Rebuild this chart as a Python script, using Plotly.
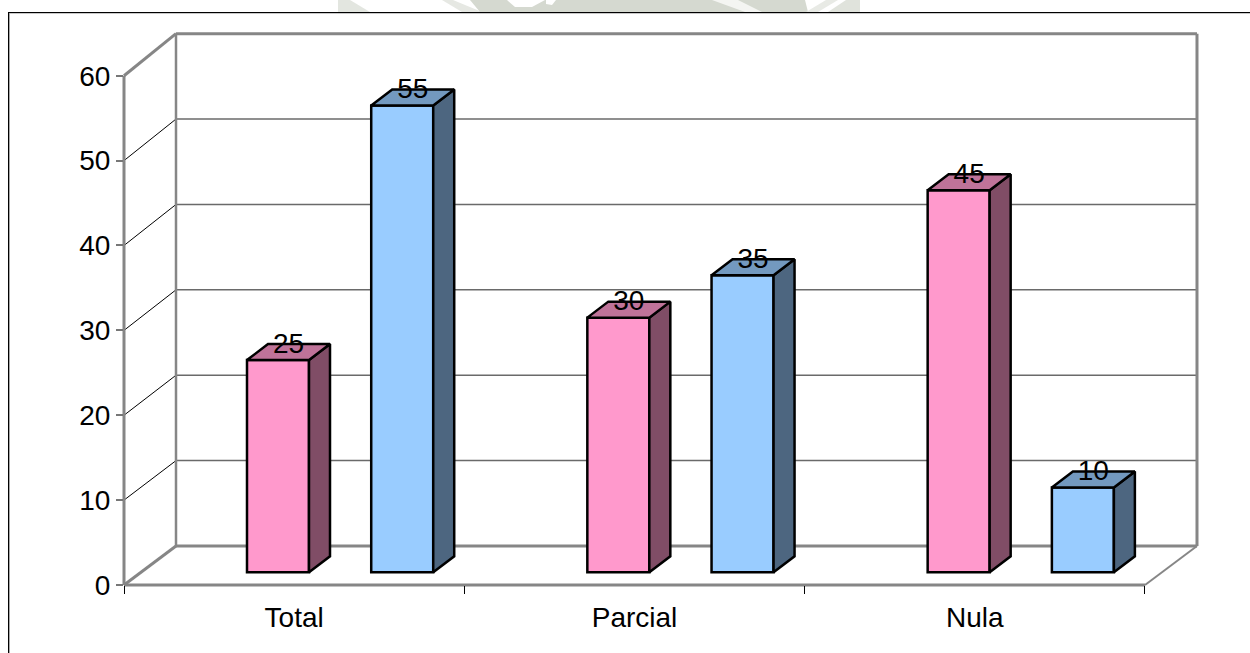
import plotly.graph_objects as go

# Survey results per category, two series per group
categories = ["Total", "Parcial", "Nula"]
series_a = [25, 30, 45]
series_b = [55, 35, 10]
y_ticks = [0, 10, 20, 30, 40, 50, 60]

FONT = "Liberation Sans, Arial, sans-serif"
FONT_SIZE = 28
WIDTH, HEIGHT = 1250, 653
LEFT, RIGHT, TOP, BOTTOM = 124, 1197, 34, 585
X_UNIT = 340.33
Y_UNIT = 8.488
X_MAX = (RIGHT - LEFT) / X_UNIT
Y_MAX = (BOTTOM - TOP) / Y_UNIT

# Oblique projection of the depth axis, in data units
WALL_DX = 52 / X_UNIT
WALL_DY0 = 39 / Y_UNIT
WALL_SCALE = 1.006
BAR_DX = 21 / X_UNIT
BAR_DY = 16 / Y_UNIT
BAR_BASE = 1.5
BAR_W = 62 / X_UNIT
OFFSETS = (0.4525, 0.8175)

GREY = "#868686"
STYLES = (
    ("#FF99CC", "#804D66", "#BF7399"),
    ("#99CCFF", "#4D6680", "#7399BF"),
)


def back(v):
    return v * WALL_SCALE + WALL_DY0


def seg(x0, y0, x1, y1, color=GREY, width=3):
    # Paper references keep strokes on the plot edge from being clipped
    return dict(type="line", xref="paper", yref="paper",
                x0=x0 / X_MAX, y0=y0 / Y_MAX, x1=x1 / X_MAX, y1=y1 / Y_MAX,
                layer="below", line=dict(color=color, width=width))


def paper_poly(points, color):
    coords = [((x - LEFT) / (RIGHT - LEFT), 1 - (y - TOP) / (BOTTOM - TOP)) for x, y in points]
    path = "M " + " L ".join(f"{x:.5f},{y:.5f}" for x, y in coords) + " Z"
    return dict(type="path", xref="paper", yref="paper", path=path, layer="below",
                fillcolor=color, line=dict(width=0))


x_end = len(categories)
top = y_ticks[-1]
wall_right = x_end + WALL_DX
shapes = []

# Faint background emblem showing above the chart frame
shapes += [
    paper_poly([(338, 0), (350, 0), (370, 12), (338, 12)], "#E3E6E0"),
    paper_poly([(442, 0), (453, 0), (482, 12), (462, 12)], "#E6E8E3"),
    paper_poly([(470, 0), (805, 0), (808, 12), (480, 12)], "#D5D9D0"),
    paper_poly([(507, 0), (545, 0), (532, 7), (515, 7)], "#FFFFFF"),
    paper_poly([(546, 0), (556, 0), (552, 5), (546, 4)], "#FFFFFF"),
    paper_poly([(712, 0), (738, 0), (762, 12), (745, 12)], "#F4F5F2"),
    paper_poly([(826, 0), (838, 0), (818, 12), (806, 12)], "#E8EAE5"),
    paper_poly([(846, 0), (860, 0), (860, 12), (828, 12)], "#E0E3DC"),
]

# Outer frame with its soft inner edge
shapes += [
    paper_poly([(8, 13), (WIDTH, 13), (WIDTH, 14), (8, 14)], "#C8C8C8"),
    paper_poly([(9, 13), (10, 13), (10, HEIGHT), (9, HEIGHT)], "#A8A8A8"),
    paper_poly([(8, 12), (WIDTH, 12), (WIDTH, 13), (8, 13)], "#000000"),
    paper_poly([(8, 12), (9, 12), (9, HEIGHT), (8, HEIGHT)], "#000000"),
]

# Grid lines across the back wall and down the side wall
for v in y_ticks[1:-1]:
    shapes.append(seg(WALL_DX, back(v), wall_right, back(v), "#6A6A6A", 1.5))
    shapes.append(seg(0, v, WALL_DX, back(v), "#000000", 1))

# Wall and floor outlines
shapes += [
    seg(WALL_DX, back(top), wall_right, back(top)),
    seg(WALL_DX, back(0), wall_right, back(0)),
    seg(wall_right, back(0), wall_right, back(top)),
    seg(WALL_DX, back(0), WALL_DX, back(top), width=2.5),
    seg(0, 0, 0, top),
    seg(0, top, WALL_DX, back(top)),
    seg(0, 0, WALL_DX, back(0)),
    seg(0, 0, x_end, 0),
    seg(x_end, 0, wall_right, back(0), width=2),
]

fig = go.Figure()

for s, values in enumerate((series_a, series_b)):
    front, side, cap = STYLES[s]
    xs = [i + OFFSETS[s] for i in range(len(categories))]

    fig.add_trace(go.Bar(
        x=xs, y=values, base=BAR_BASE, width=BAR_W,
        marker=dict(color=front, line=dict(color="#000000", width=2.5)),
        hoverinfo="skip",
    ))

    for x, v in zip(xs, values):
        x0, x1 = x - BAR_W / 2, x + BAR_W / 2
        y0, y1 = BAR_BASE, BAR_BASE + v
        # Right-hand face
        fig.add_trace(go.Scatter(
            x=[x1, x1 + BAR_DX, x1 + BAR_DX, x1, x1],
            y=[y0, y0 + BAR_DY, y1 + BAR_DY, y1, y0],
            mode="lines", fill="toself", fillcolor=side,
            line=dict(color="#000000", width=2.5), hoverinfo="skip",
        ))
        # Top face
        fig.add_trace(go.Scatter(
            x=[x0, x0 + BAR_DX, x1 + BAR_DX, x1, x0],
            y=[y1, y1 + BAR_DY, y1 + BAR_DY, y1, y1],
            mode="lines", fill="toself", fillcolor=cap,
            line=dict(color="#000000", width=2.5), hoverinfo="skip",
        ))

# Value labels centred on the back edge of each bar's top face
for s, values in enumerate((series_a, series_b)):
    fig.add_trace(go.Scatter(
        x=[i + OFFSETS[s] + BAR_DX / 2 for i in range(len(categories))],
        y=[BAR_BASE + v + BAR_DY * 0.9 for v in values],
        mode="text", text=[str(v) for v in values],
        textposition="middle center",
        textfont=dict(family=FONT, size=FONT_SIZE, color="#000000"),
        hoverinfo="skip", cliponaxis=False,
    ))

fig.update_layout(
    width=WIDTH, height=HEIGHT, autosize=False,
    margin=dict(l=LEFT, r=WIDTH - RIGHT, t=TOP, b=HEIGHT - BOTTOM, pad=0),
    paper_bgcolor="#FFFFFF", plot_bgcolor="#FFFFFF",
    showlegend=False, shapes=shapes,
    font=dict(family=FONT, size=FONT_SIZE, color="#000000"),
)
fig.update_xaxes(
    range=[0, X_MAX],
    showgrid=False, zeroline=False, showline=False,
    tickmode="array",
    tickvals=[i + 0.5 for i in range(len(categories))],
    ticktext=categories, ticks="", ticklabelstandoff=13,
    minor=dict(tickmode="array", tickvals=list(range(len(categories) + 1)),
               ticks="outside", ticklen=8, tickwidth=1, tickcolor="#000000", showgrid=False),
)
fig.update_yaxes(
    range=[0, Y_MAX],
    showgrid=False, zeroline=False, showline=False,
    tickmode="array", tickvals=y_ticks, ticktext=[str(v) for v in y_ticks],
    ticks="outside", ticklen=7, tickwidth=1.5, tickcolor="#777777",
)

fig.write_html("out.html", config=dict(displayModeBar=False))
